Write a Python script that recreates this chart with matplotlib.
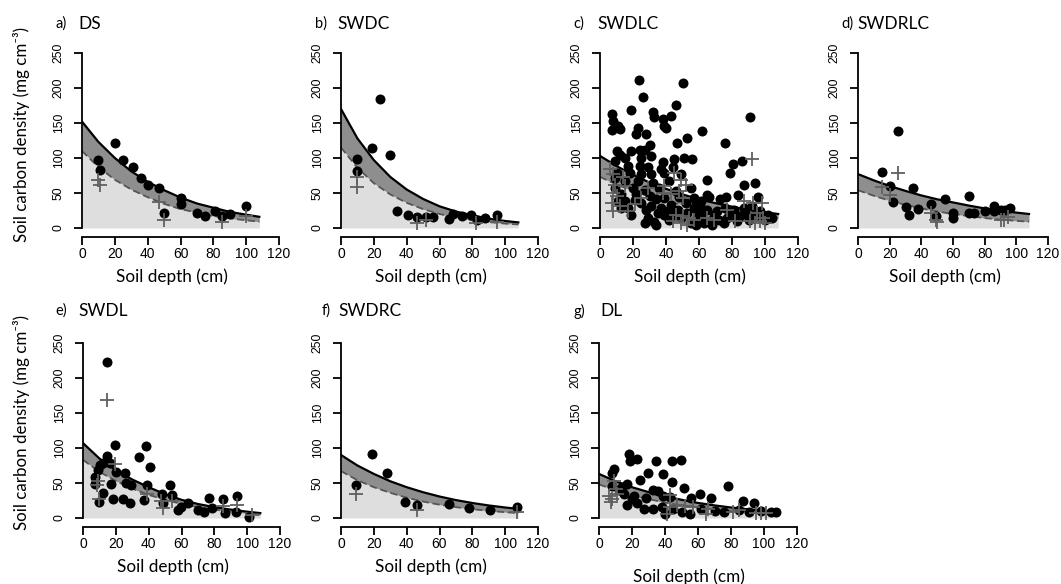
import matplotlib
matplotlib.use("Agg")
import matplotlib.pyplot as plt

# ── data ─────────────────────────────────────────────────────────────────────

CURVE_DEPTH = [0, 10, 20, 30, 40, 50, 60, 70, 80, 90, 100, 108]

# a) DS
a_dot_x = [10, 11, 20, 25, 31, 36, 40, 47, 50, 60, 60, 70, 75, 81, 85, 90, 100]
a_dot_y = [97, 83, 121, 97, 87, 71, 62, 57, 22, 43, 34, 22, 17, 24, 17, 20, 31]
a_plus_x = [10, 11, 47, 50, 85, 100]
a_plus_y = [69, 61, 37, 12, 9, 17]
a_solid = [152, 123, 100, 81, 66, 54, 43.5, 35, 29, 23, 19, 16]
a_dashed = [110, 87, 69, 55, 44, 34.5, 27, 22, 17, 13.7, 11, 9]

# b) SWDC
b_dot_x = [10, 10, 19, 24, 30, 34, 41, 46, 52, 56, 66, 68, 74, 79, 83, 88, 95]
b_dot_y = [98, 82, 114, 184, 104, 25, 18, 16, 16, 16, 13, 20, 17, 18, 12, 15, 18]
b_plus_x = [10, 10, 46, 52, 82, 95]
b_plus_y = [73, 58, 7, 12, 7, 8]
b_solid = [170, 128, 97, 73, 55, 41.5, 31, 23.5, 18, 13.3, 10, 8]
b_dashed = [115, 86, 64, 48, 36, 27, 20, 15, 11, 8.4, 6.3, 5]

# c) SWDLC
c_dot_x = [23.6, 50.6, 26, 46, 7, 19, 32, 33, 38, 43, 8, 7, 11, 12, 23, 22, 28, 39, 40,
           62, 52.6, 46.6, 10, 12, 19, 24, 27, 30, 15, 25, 31, 38, 45, 51, 56, 9, 17, 24,
           29, 37, 44, 10, 18, 25, 31, 39, 49, 9, 15, 23, 32, 42, 9, 20, 27, 36, 46, 55,
           13, 22, 30, 39, 48, 57, 15, 25, 34, 43, 52, 61, 17, 28, 37, 47, 57, 19, 29, 39,
           49, 59, 27, 34, 55, 13, 11,
           91, 75.6, 80.6, 86, 79, 64.6, 87, 94, 64.6, 66, 73, 76.6, 83.4, 96, 58, 61, 65,
           71, 76, 81, 87, 92, 97, 102, 60, 66, 75, 83, 90, 96, 69, 79, 85, 63, 77,
           35, 42, 45, 53, 58, 62, 68, 72, 88, 93, 100, 104, 33, 21, 31, 41, 44]
c_dot_y = [212, 207, 187, 176, 163, 168, 165, 159, 156, 160, 153, 140, 146, 141, 143, 134,
           135, 145, 143, 139, 128, 122, 110, 105, 110, 111, 112, 119, 100, 100, 103, 95,
           98, 100, 98, 96, 89, 89, 87, 84, 87, 79, 79, 77, 77, 78, 77, 72, 67, 67, 65, 67,
           57, 57, 55, 57, 53, 57, 48, 48, 46, 43, 44, 43, 38, 36, 41, 33, 36, 38, 29, 26,
           29, 26, 29, 19, 14, 19, 14, 17, 7, 5, 7, 29, 38,
           159, 121, 92, 96, 78, 68, 61, 65, 47, 44, 42, 44, 47, 44, 38, 29, 26, 24, 29,
           26, 29, 31, 24, 19, 14, 10, 7, 10, 12, 17, 19, 17, 17, 7, 14,
           22, 12, 22, 22, 5, 22, 5, 12, 22, 17, 12, 14, 9, 40, 31, 24, 19]
c_plus_x = [6, 8, 14, 9, 15, 8, 10, 7, 12, 17, 8, 21, 45, 49, 52, 48, 50, 39, 38, 43, 46,
            50, 54, 44, 49, 57, 53, 25, 29, 92, 87, 93, 98, 77, 95, 69, 91, 94, 97, 99,
            100, 82, 65]
c_plus_y = [84, 77, 73, 62, 60, 50, 46, 36, 31, 24, 24, 34, 79, 69, 62, 53, 43, 60, 50, 48,
            19, 17, 14, 10, 7, 12, 5, 43, 57, 98, 38, 36, 36, 26, 22, 12, 10, 7, 10, 14,
            7, 10, 14]
c_solid = [103, 88.5, 76, 65, 56, 48, 41, 35.5, 30.5, 26, 22.5, 20]
c_dashed = [73, 62, 53, 45, 38.5, 33, 28, 24, 20, 17.3, 14.7, 13]

# d) SWDRLC
d_dot_x = [15, 20, 22, 25, 30, 32, 35, 38, 46, 49, 55, 60, 60, 70, 70, 73, 80, 86, 86, 90,
           93, 96]
d_dot_y = [80, 60, 37, 138, 30, 18, 57, 27, 35, 17, 42, 21, 15, 46, 22, 22, 24, 31, 25, 26,
           26, 29]
d_plus_x = [15, 20, 25, 46, 49, 50, 90, 92, 95]
d_plus_y = [58, 47, 78, 22, 11, 8, 11, 12, 16]
d_solid = [77, 68, 60, 53, 46.5, 41, 36.5, 32, 28, 25, 22, 20]
d_dashed = [54, 46, 39, 33, 28, 23.6, 20, 17, 14.2, 12, 10.2, 9]

# e) SWDL
e_dot_x = [14.7, 19.4, 14.7, 38.6, 34, 41, 10.3, 12.3, 9.3, 7.3, 7.3, 20.4, 25.5, 26, 29.5,
           16.8, 12.3, 10, 18.4, 24.4, 28.5, 37, 39, 48, 53, 54.3, 48.7, 57.8, 59.8, 63.8,
           70, 74, 77, 78.6, 85.5, 86.7, 94, 93, 101, 16.5]
e_dot_y = [223, 105, 89, 103, 87, 73, 76, 78, 69, 59, 48, 66, 64, 50, 47, 48.5, 36, 23, 27,
           27, 22, 26, 47, 34, 47, 33, 21, 11, 16, 22, 11, 9, 28, 15, 27, 7, 31, 9, 1, 79]
e_plus_x = [14.7, 19.4, 8.3, 10, 39, 47.7, 48.7, 54, 85.5, 94, 103, 9]
e_plus_y = [169, 77, 47, 27, 35, 25, 14, 25, 17, 19, 4, 53]
e_solid = [107, 85, 68, 55, 44, 34, 26, 20, 15.5, 12, 9, 7]
e_dashed = [83, 66, 53, 42, 33, 26, 20, 15.5, 12, 9, 6.5, 5]

# f) SWDRC
f_dot_x = [9, 19, 28, 39, 46, 66, 78, 91, 107]
f_dot_y = [47, 92, 64, 23, 18, 20, 14, 12, 16]
f_plus_x = [9, 46, 107]
f_plus_y = [35, 12, 8]
f_solid = [90, 75, 63, 52.5, 44, 36.8, 30.7, 25.6, 21.4, 17.9, 15, 13]
f_dashed = [67, 54, 44, 36, 29, 23.5, 19, 15.5, 12.6, 10.2, 8.3, 7]

# g) DL
g_dot_x = [18, 19, 23, 9, 8, 34.4, 44, 49.8, 29.4, 39, 25, 44, 51.6, 78.4, 17, 32.6, 36, 39,
           56, 61, 67.6, 43, 87, 94, 28.6, 21, 23, 17, 27, 32.6, 38, 45, 50, 55, 62, 70, 76,
           85, 91, 40, 14, 12, 15, 20, 8, 98, 104, 107]
g_dot_y = [92, 82, 84, 70, 65, 81, 81, 83, 65, 63, 55, 52, 43.5, 46, 49, 40, 39, 32, 29,
           34.5, 29, 30, 24, 21, 28, 32, 22, 19, 13, 13, 15.6, 13, 9, 6, 13, 10, 8.5, 12,
           8.5, 6, 44, 40, 35, 27, 46, 10, 9, 9]
g_plus_x = [6, 8, 10, 9, 11, 7, 43, 41, 47, 52, 57, 65, 66, 81, 85, 95, 98, 101, 43]
g_plus_y = [32, 27, 42, 53, 35, 23, 16, 6, 18, 17, 16, 6, 13, 8.5, 12, 7.5, 7.5, 7.5, 33]
g_solid = [63, 52.5, 44, 37, 31, 26, 21.5, 18, 15, 12.5, 10, 8.5]
g_dashed = [48, 39.5, 32.5, 27, 22, 18, 15, 12, 10, 8, 6, 4.5]

LETTERS = ["a)", "b)", "c)", "d)", "e)", "f)", "g)"]
NAMES = ["DS", "SWDC", "SWDLC", "SWDRLC", "SWDL", "SWDRC", "DL"]

# ── layout (pixels) ──────────────────────────────────────────────────────────

W, H = 1061, 584
LABEL_FONT = ["Lato", "DejaVu Sans"]
TICK_FONT = "Liberation Sans"

panels = [
    (a_dot_x, a_dot_y, a_plus_x, a_plus_y, a_solid, a_dashed),
    (b_dot_x, b_dot_y, b_plus_x, b_plus_y, b_solid, b_dashed),
    (c_dot_x, c_dot_y, c_plus_x, c_plus_y, c_solid, c_dashed),
    (d_dot_x, d_dot_y, d_plus_x, d_plus_y, d_solid, d_dashed),
    (e_dot_x, e_dot_y, e_plus_x, e_plus_y, e_solid, e_dashed),
    (f_dot_x, f_dot_y, f_plus_x, f_plus_y, f_solid, f_dashed),
    (g_dot_x, g_dot_y, g_plus_x, g_plus_y, g_solid, g_dashed),
]
# left px of y axis, px of y=250, px of x-axis line, px width for x 0..120
boxes = [(82, 53, 237, 197), (341, 53, 237, 197), (600, 53, 237, 198), (858, 53, 237, 190),
         (83, 343, 527, 197), (341, 343, 527, 197), (599, 343, 527, 198)]
title_pos = [(55, 78, 24), (315, 337, 24), (573, 597, 24), (841, 857, 24),
             (55, 78, 311), (322, 338, 311), (573, 600, 311)]
xlabel_y = [277, 277, 277, 277, 567, 567, 577]

DARK = "#8e8e8e"
LIGHT = "#dedede"
PLUS = "#606060"

fig = plt.figure(figsize=(W / 100, H / 100), dpi=100)

for i, (dx, dy, px, py, solid, dashed) in enumerate(panels):
    left, top, bottom, aw = boxes[i]
    ax = fig.add_axes([left / W, 1 - bottom / H, aw / W, (bottom - top) / H])
    ax.set_xlim(0, 120)
    ax.set_ylim(-(bottom - top) / 175 * 250 + 250, 250)

    ax.fill_between(CURVE_DEPTH, 0, dashed, color=LIGHT, lw=0, zorder=1)
    ax.fill_between(CURVE_DEPTH, dashed, solid, color=DARK, lw=0, zorder=1)
    ax.plot(CURVE_DEPTH, solid, color="black", lw=1.6, zorder=2)
    ax.plot(CURVE_DEPTH, dashed, color="#555555", lw=1.3, ls=(0, (4, 2)), zorder=2)
    ax.plot(dx, dy, "o", color="black", ms=7.2, mew=0, zorder=3, clip_on=False)
    ax.plot(px, py, "+", color=PLUS, ms=10, mew=1.3, zorder=4, clip_on=False)

    for s in ("top", "right"):
        ax.spines[s].set_visible(False)
    ax.spines["left"].set_bounds(0, 250)
    ax.spines["bottom"].set_bounds(0, 120)
    for s in ("left", "bottom"):
        ax.spines[s].set_linewidth(1.3)
    ax.set_xticks([0, 20, 40, 60, 80, 100, 120])
    ax.set_yticks([0, 50, 100, 150, 200, 250])
    ax.tick_params(axis="x", length=6, width=1.3, pad=1.5, labelsize=10)
    ax.tick_params(axis="y", length=6, width=1.3, pad=6.5, labelsize=8.8)
    for lab in ax.get_xticklabels() + ax.get_yticklabels():
        lab.set_fontfamily(TICK_FONT)
    for lab in ax.get_yticklabels():
        lab.set_rotation(90)
        lab.set_va("center")
    ax.set_facecolor("none")

    # titles and axis labels
    xl, xn, ty = title_pos[i]
    fig.text(xl / W, 1 - ty / H, LETTERS[i], fontsize=10.5, family=LABEL_FONT,
             ha="left", va="center")
    fig.text(xn / W, 1 - ty / H, NAMES[i], fontsize=12.5, family=LABEL_FONT,
             ha="left", va="center")
    fig.text((left + 0.455 * aw) / W, 1 - xlabel_y[i] / H, "Soil depth (cm)",
             fontsize=12.3, family=LABEL_FONT, ha="center", va="center")

for yc in (134, 422):
    fig.text(22 / W, 1 - yc / H, "Soil carbon density (mg cm⁻³)", rotation=90,
             fontsize=12.2, family=LABEL_FONT, ha="center", va="center")

fig.savefig("out.png", dpi=100, facecolor="white")
